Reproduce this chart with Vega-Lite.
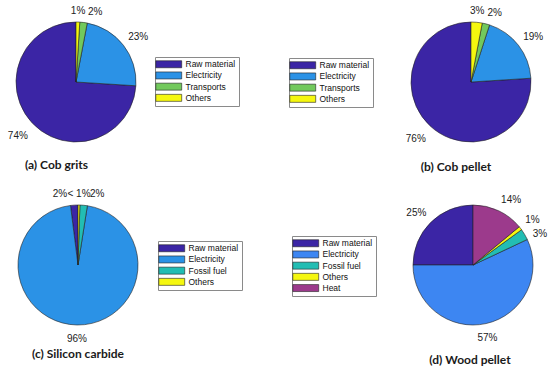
{
  "$schema": "https://vega.github.io/schema/vega-lite/v6.json",
  "background": "white",
  "padding": {"left": 7, "top": 6, "right": 0, "bottom": 0},
  "datasets": {
    "cobgrits": [
      {"category": "Raw material", "value": 74, "label": "74%", "k": 1},
      {"category": "Electricity", "value": 23, "label": "23%", "k": 2},
      {"category": "Transports", "value": 2, "label": "2%", "k": 3},
      {"category": "Others", "value": 1, "label": "1%", "k": 4}
    ],
    "cobpellet": [
      {"category": "Raw material", "value": 76, "label": "76%", "k": 1},
      {"category": "Electricity", "value": 19, "label": "19%", "k": 2},
      {"category": "Transports", "value": 2, "label": "2%", "k": 3},
      {"category": "Others", "value": 3, "label": "3%", "k": 4}
    ],
    "sic": [
      {"category": "Raw material", "value": 2, "label": "2%", "k": 1},
      {"category": "Electricity", "value": 95.5, "label": "96%", "k": 2},
      {"category": "Fossil fuel", "value": 2, "label": "2%", "k": 3},
      {"category": "Others", "value": 0.5, "label": "< 1%", "k": 4}
    ],
    "wood": [
      {"category": "Raw material", "value": 25, "label": "25%", "k": 1},
      {"category": "Electricity", "value": 57, "label": "57%", "k": 2},
      {"category": "Fossil fuel", "value": 3, "label": "3%", "k": 3},
      {"category": "Others", "value": 1, "label": "1%", "k": 4},
      {"category": "Heat", "value": 14, "label": "14%", "k": 5}
    ]
  },
  "config": {
    "view": {"stroke": null},
    "title": {"font": "Lato", "fontSize": 12, "fontWeight": "bold", "color": "#1a1a1a", "frame": "group"},
    "legend": {
      "symbolType": "M-3.7,-1H3.7V1H-3.7Z",
      "symbolSize": 49,
      "symbolStrokeColor": "#222",
      "symbolStrokeWidth": 0.6,
      "symbolOpacity": 1,
      "symbolOffset": 6.5,
      "labelOffset": 12.5,
      "labelFont": "Liberation Sans",
      "labelFontSize": 8.5,
      "labelColor": "#111",
      "strokeColor": "#8a8a8a",
      "fillColor": "white",
      "padding": 3,
      "rowPadding": 1.2
    }
  },
  "columns": 2,
  "spacing": {"row": 53, "column": 261},
  "bounds": "flush",
  "resolve": {"scale": {"color": "independent", "theta": "independent"}, "legend": {"color": "independent"}},
  "concat": [
    {
      "width": 130, "height": 130,
      "data": {"name": "cobgrits"},
      "title": {"text": "(a) Cob grits", "orient": "bottom", "anchor": "middle", "dx": -19.5, "offset": 12.5},
      "encoding": {
        "theta": {"field": "value", "type": "quantitative", "stack": true},
        "order": {"field": "k", "type": "quantitative", "sort": "descending"}
      },
      "layer": [
        {
          "mark": {"type": "arc", "outerRadius": 60, "stroke": "#222", "strokeWidth": 0.6},
          "encoding": {
            "color": {"field": "category", "type": "nominal",
              "scale": {"domain": ["Raw material", "Electricity", "Transports", "Others"], "range": ["#3b25a5", "#2b92e6", "#72c95c", "#f5f70f"]},
              "legend": {"orient": "none", "legendX": 144, "legendY": 40, "title": null}}
          }
        },
        {
          "mark": {"type": "text", "radius": 66, "font": "Liberation Sans", "fontSize": 10, "color": "#222",
            "align": {"expr": "(datum.value_start+datum.value_end)/200 < 0.03 || (datum.value_start+datum.value_end)/200 > 0.97 || abs((datum.value_start+datum.value_end)/200 - 0.5) < 0.04 ? 'center' : ((datum.value_start+datum.value_end)/200 < 0.5 ? 'left' : 'right')"},
            "baseline": {"expr": "abs((datum.value_start+datum.value_end)/200 - 0.5) < 0.25 ? 'top' : 'bottom'"},
            "dy": {"expr": "abs((datum.value_start+datum.value_end)/200 - 0.5) < 0.25 ? 3.5 : 0"},
            "dx": {"expr": "datum.category === 'Transports' ? 11 : 0"}},
          "encoding": {"text": {"field": "label"}, "detail": {"field": "category"}}
        }
      ]
    },
    {
      "width": 130, "height": 130,
      "data": {"name": "cobpellet"},
      "title": {"text": "(b) Cob pellet", "orient": "bottom", "anchor": "middle", "dx": -15, "offset": 14.5},
      "encoding": {
        "theta": {"field": "value", "type": "quantitative", "stack": true},
        "order": {"field": "k", "type": "quantitative", "sort": "descending"}
      },
      "layer": [
        {
          "mark": {"type": "arc", "outerRadius": 60, "stroke": "#222", "strokeWidth": 0.6},
          "encoding": {
            "color": {"field": "category", "type": "nominal",
              "scale": {"domain": ["Raw material", "Electricity", "Transports", "Others"], "range": ["#3b25a5", "#2b92e6", "#72c95c", "#f5f70f"]},
              "legend": {"orient": "none", "legendX": -117, "legendY": 41, "title": null}}
          }
        },
        {
          "mark": {"type": "text", "radius": 66, "font": "Liberation Sans", "fontSize": 10, "color": "#222",
            "align": {"expr": "(datum.value_start+datum.value_end)/200 < 0.03 || (datum.value_start+datum.value_end)/200 > 0.97 || abs((datum.value_start+datum.value_end)/200 - 0.5) < 0.04 ? 'center' : ((datum.value_start+datum.value_end)/200 < 0.5 ? 'left' : 'right')"},
            "baseline": {"expr": "abs((datum.value_start+datum.value_end)/200 - 0.5) < 0.25 ? 'top' : 'bottom'"},
            "dy": {"expr": "abs((datum.value_start+datum.value_end)/200 - 0.5) < 0.25 ? 3.5 : 0"}},
          "encoding": {"text": {"field": "label"}, "detail": {"field": "category"}}
        }
      ]
    },
    {
      "width": 134, "height": 130,
      "data": {"name": "sic"},
      "title": {"text": "(c) Silicon carbide", "orient": "bottom", "anchor": "middle", "dx": 0, "offset": 5},
      "encoding": {
        "theta": {"field": "value", "type": "quantitative", "stack": true},
        "order": {"field": "k", "type": "quantitative", "sort": "descending"}
      },
      "layer": [
        {
          "mark": {"type": "arc", "outerRadius": 60, "stroke": "#222", "strokeWidth": 0.6},
          "encoding": {
            "color": {"field": "category", "type": "nominal",
              "scale": {"domain": ["Raw material", "Electricity", "Fossil fuel", "Others"], "range": ["#3b25a5", "#2b92e6", "#22bdb3", "#f5f70f"]},
              "legend": {"orient": "none", "legendX": 147, "legendY": 41, "title": null}}
          }
        },
        {
          "mark": {"type": "text", "radius": 66, "font": "Liberation Sans", "fontSize": 10, "color": "#222",
            "align": {"expr": "(datum.value_start+datum.value_end)/200 < 0.03 || (datum.value_start+datum.value_end)/200 > 0.97 || abs((datum.value_start+datum.value_end)/200 - 0.5) < 0.04 ? 'center' : ((datum.value_start+datum.value_end)/200 < 0.5 ? 'left' : 'right')"},
            "baseline": {"expr": "abs((datum.value_start+datum.value_end)/200 - 0.5) < 0.25 ? 'top' : 'bottom'"},
            "dy": {"expr": "abs((datum.value_start+datum.value_end)/200 - 0.5) < 0.25 ? 3.5 : 0"},
            "dx": {"expr": "datum.category === 'Raw material' ? -14 : (datum.category === 'Fossil fuel' ? 13 : 0)"}},
          "encoding": {"text": {"field": "label"}, "detail": {"field": "category"}}
        }
      ]
    },
    {
      "width": 134, "height": 130,
      "data": {"name": "wood"},
      "title": {"text": "(d) Wood pellet", "orient": "bottom", "anchor": "middle", "dx": -3, "offset": 12.5},
      "encoding": {
        "theta": {"field": "value", "type": "quantitative", "stack": true},
        "order": {"field": "k", "type": "quantitative", "sort": "descending"}
      },
      "layer": [
        {
          "mark": {"type": "arc", "outerRadius": 60, "stroke": "#222", "strokeWidth": 0.6},
          "encoding": {
            "color": {"field": "category", "type": "nominal",
              "scale": {"domain": ["Raw material", "Electricity", "Fossil fuel", "Others", "Heat"], "range": ["#3b25a5", "#3d86f2", "#22bdb3", "#f5f70f", "#9c3a8c"]},
              "legend": {"orient": "none", "legendX": -114, "legendY": 36, "title": null}}
          }
        },
        {
          "mark": {"type": "text", "radius": 66, "font": "Liberation Sans", "fontSize": 10, "color": "#222",
            "align": {"expr": "(datum.value_start+datum.value_end)/200 < 0.03 || (datum.value_start+datum.value_end)/200 > 0.97 || abs((datum.value_start+datum.value_end)/200 - 0.5) < 0.04 ? 'center' : ((datum.value_start+datum.value_end)/200 < 0.5 ? 'left' : 'right')"},
            "baseline": {"expr": "abs((datum.value_start+datum.value_end)/200 - 0.5) < 0.25 ? 'top' : 'bottom'"},
            "dy": {"expr": "datum.category === 'Fossil fuel' ? 8 : (abs((datum.value_start+datum.value_end)/200 - 0.5) < 0.25 ? 3.5 : 0)"},
            "dx": {"expr": "datum.category === 'Fossil fuel' ? 3 : 0"}},
          "encoding": {"text": {"field": "label"}, "detail": {"field": "category"}}
        }
      ]
    }
  ]
}
